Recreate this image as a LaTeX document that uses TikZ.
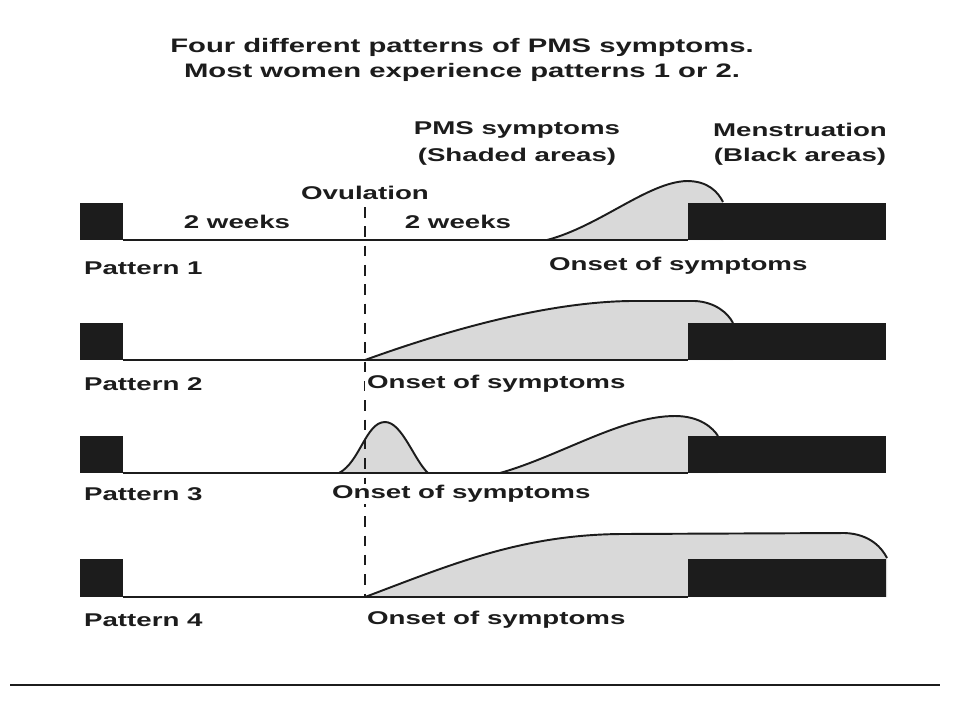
\documentclass[tikz,border=0pt]{standalone}
\usepackage{fontspec}
\setmainfont{Liberation Sans}[FakeStretch=1.5]
\usetikzlibrary{positioning}
\definecolor{ink}{HTML}{1C1C1C}
\definecolor{stipple}{HTML}{D9D9D9}

\begin{document}
\begin{tikzpicture}[x=0.02cm, y=-0.02cm,
    lbl/.style={font=\bfseries\fontsize{10.5}{12.5}\selectfont, text=ink, inner sep=1pt},
    headline/.style={lbl, font=\bfseries\fontsize{11.1}{13}\selectfont},
    onset/.style={lbl, anchor=west, fill=white},
    curve/.style={draw=ink, line width=1.1pt, line join=round},
    base/.style={draw=ink, line width=1.1pt},
    ovline/.style={draw=ink, line width=1pt, dash pattern=on 6pt off 5pt}]
        % Frame
        \useasboundingbox (0,0) rectangle (955,721);
        \fill[white] (0,0) rectangle (955,721);
        % Title
        \node[headline] (title1) at (462,47) {Four different patterns of PMS symptoms.};
        \node[headline] (title2) at (462,72) {Most women experience patterns 1 or 2.};
        % Key
        \node[lbl] (pms) at (517,130) {PMS symptoms};
        \node[lbl] (pmskey) at (517,157) {(Shaded areas)};
        \node[lbl] (menses) at (800,130) {Menstruation};
        \node[lbl] (menseskey) at (800,157) {(Black areas)};
        \node[lbl] (ovul) at (365,193) {Ovulation};
        \node[lbl] (wka) at (237,222) {2 weeks};
        \node[lbl] (wkb) at (458,222) {2 weeks};
        % Shaded areas
        \fill[stipple] (547,240) .. controls (600,226) and (648,182) .. (687,181)
            .. controls (708,181) and (718,192) .. (723,202) -- (723,240) -- cycle;
        \fill[stipple] (365,360) .. controls (470,322) and (560,302) .. (630,301) -- (695,301)
            .. controls (715,302) and (728,313) .. (733,323) -- (733,360) -- cycle;
        \fill[stipple] (339,473) .. controls (360,462) and (366,422) .. (385,422)
            .. controls (402,422) and (414,460) .. (428,473) -- cycle;
        \fill[stipple] (500,473) .. controls (560,456) and (622,416) .. (675,416)
            .. controls (700,416) and (713,428) .. (718,436) -- (718,473) -- cycle;
        \fill[stipple] (365,597) .. controls (450,565) and (520,535) .. (620,534) -- (845,533)
            .. controls (870,534) and (882,548) .. (887,558) -- (887,597) -- cycle;
        % Base lines
        \foreach \yb in {240,360,473,597} {
            \draw[base] (123,\yb) -- (688,\yb);
        }
        % Ovulation line
        \coordinate (ovtop) at (365,207);
        \coordinate (ovbot) at (365,597);
        \draw[ovline] (ovtop) -- (ovbot);
        % Symptom curves
        \draw[curve] (547,240) .. controls (600,226) and (648,182) .. (687,181)
            .. controls (708,181) and (718,192) .. (723,202);
        \draw[curve] (365,360) .. controls (470,322) and (560,302) .. (630,301) -- (695,301)
            .. controls (715,302) and (728,313) .. (733,323);
        \draw[curve] (339,473) .. controls (360,462) and (366,422) .. (385,422)
            .. controls (402,422) and (414,460) .. (428,473);
        \draw[curve] (500,473) .. controls (560,456) and (622,416) .. (675,416)
            .. controls (700,416) and (713,428) .. (718,436);
        \draw[curve] (365,597) .. controls (450,565) and (520,535) .. (620,534) -- (845,533)
            .. controls (870,534) and (882,548) .. (887,558);
        % Menstruation boxes
        \foreach \yt/\yb in {203/240, 323/360, 436/473, 559/597} {
            \fill[ink] (80,\yt) rectangle (123,\yb);
            \fill[ink] (688,\yt) rectangle (886,\yb);
        }
        % Pattern labels
        \foreach \i/\y in {1/268, 2/384, 3/494, 4/620} {
            \node[lbl, anchor=west] (pat\i) at (82,\y) {Pattern \i};
        }
        \node[onset] (onset1) at (547,266) {Onset of symptoms};
        \node[onset] (onset2) at (365,384) {Onset of symptoms};
        \node[onset] (onset3) at (330,494) {Onset of symptoms};
        \node[onset] (onset4) at (365,620) {Onset of symptoms};
        % Bottom rule
        \draw[ink, line width=0.9pt] (10,685) -- (940,685);
    \end{tikzpicture}
\end{document}
